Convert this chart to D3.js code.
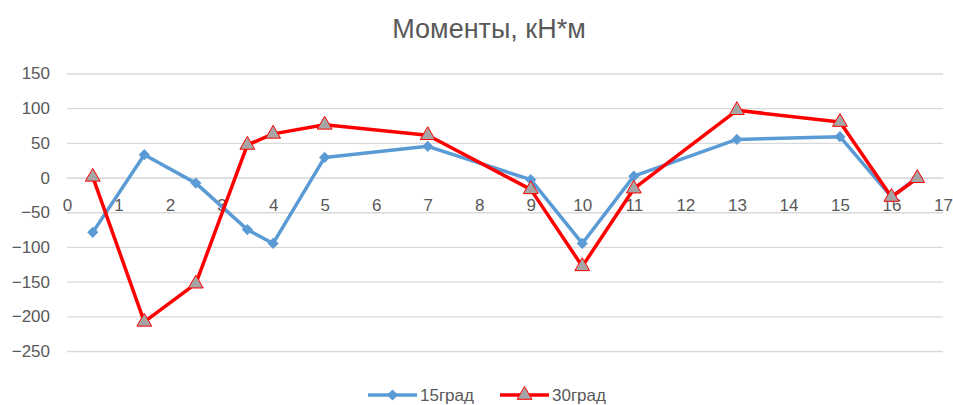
<!DOCTYPE html>
<html>
<head>
<meta charset="utf-8">
<script src="https://cdn.jsdelivr.net/npm/d3@7"></script>
<style>
  body { margin: 0; background: #fff; }
  text { font-family: "Liberation Sans", "DejaVu Sans", sans-serif; fill: #595959; }
</style>
</head>
<body>
<div id="chart"></div>
<script>
const xPos = [0.5, 1.5, 2.5, 3.5, 4, 5, 7, 9, 10, 11, 13, 15, 16, 16.5];
const grad15 = [-79, 33, -8, -75, -95, 29, 45, -3, -95, 2, 55, 59, -28, 0];
const grad30 = [1, -208, -153, 47, 63, 76, 61, -17, -128, -16, 97, 80, -28, -1];
const seriesNames = ["15град", "30град"];
const yTicks = [-250, -200, -150, -100, -50, 0, 50, 100, 150];
const xTicks = d3.range(0, 18);

const width = 953;
const height = 405;

const svg = d3.select("#chart").append("svg")
  .attr("width", width)
  .attr("height", height);

const x = d3.scaleLinear().domain([0, 17]).range([67, 943]);
const y = d3.scaleLinear().domain([-250, 150]).range([351, 73.5]);

// title
svg.append("text")
  .attr("x", 489)
  .attr("y", 38)
  .attr("text-anchor", "middle")
  .style("font-size", "27px")
  .text("Моменты, кН*м");

// gridlines + y labels
const yAxis = svg.append("g")
  .attr("transform", "translate(67,0)")
  .call(d3.axisLeft(y).tickValues(yTicks).tickSize(-876).tickPadding(17));
yAxis.select(".domain").remove();
yAxis.selectAll("line").attr("stroke", "#d9d9d9").attr("stroke-width", 1.3);
yAxis.selectAll("text").style("font-size", "17px").attr("fill", "#595959");

// x axis at zero
const xAxis = svg.append("g")
  .attr("transform", "translate(0," + y(0) + ")")
  .call(d3.axisBottom(x).tickValues(xTicks).tickSize(0).tickPadding(21));
xAxis.select(".domain").attr("stroke", "#d9d9d9").attr("stroke-width", 1.3);
xAxis.selectAll("text").style("font-size", "17px").attr("fill", "#595959");

const line = d3.line().x(d => x(d[0])).y(d => y(d[1]));
const pts15 = xPos.map((v, i) => [v, grad15[i]]);
const pts30 = xPos.map((v, i) => [v, grad30[i]]);

const diamond = d3.symbol().type(d3.symbolDiamond2).size(80);
const triangle = d3.symbol().type(d3.symbolTriangle).size(95);

svg.append("path").datum(pts15)
  .attr("d", line).attr("fill", "none")
  .attr("stroke", "#5b9bd5").attr("stroke-width", 3.5)
  .attr("stroke-linejoin", "round");
svg.selectAll(".m15").data(pts15).enter().append("path")
  .attr("class", "m15")
  .attr("d", diamond)
  .attr("transform", d => "translate(" + x(d[0]) + "," + y(d[1]) + ")")
  .attr("fill", "#5b9bd5");

svg.append("path").datum(pts30)
  .attr("d", line).attr("fill", "none")
  .attr("stroke", "#ff0000").attr("stroke-width", 3.5)
  .attr("stroke-linejoin", "round");
svg.selectAll(".m30").data(pts30).enter().append("path")
  .attr("class", "m30")
  .attr("d", triangle)
  .attr("transform", d => "translate(" + x(d[0]) + "," + y(d[1]) + ")")
  .attr("fill", "#a5a5a5")
  .attr("stroke", "#ff0000").attr("stroke-width", 1);

// legend
const legend = [
  { name: seriesNames[0], x0: 368, color: "#5b9bd5", sym: diamond, fill: "#5b9bd5", stroke: "none" },
  { name: seriesNames[1], x0: 500, color: "#ff0000", sym: triangle, fill: "#a5a5a5", stroke: "#ff0000" }
];
const lg = svg.selectAll(".lg").data(legend).enter().append("g").attr("class", "lg");
lg.append("line")
  .attr("x1", d => d.x0).attr("x2", d => d.x0 + 49)
  .attr("y1", 395).attr("y2", 395)
  .attr("stroke", d => d.color).attr("stroke-width", 3.5);
lg.append("path")
  .attr("d", d => d.sym())
  .attr("transform", d => "translate(" + (d.x0 + 24.5) + ",395)")
  .attr("fill", d => d.fill).attr("stroke", d => d.stroke);
lg.append("text")
  .attr("x", d => d.x0 + 52).attr("y", 401)
  .style("font-size", "17px")
  .text(d => d.name);
</script>
</body>
</html>
